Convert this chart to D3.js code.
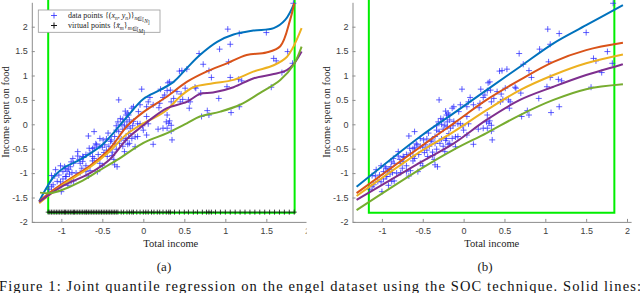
<!DOCTYPE html>
<html>
<head>
<meta charset="utf-8">
<script src="https://cdn.jsdelivr.net/npm/d3@7"></script>
<style>
  body{margin:0;background:#fff;}
  svg{display:block;}
  .tick text{font-family:"Liberation Sans",Arial,sans-serif;font-size:9px;fill:#404040;}
  .tick line{stroke:#8c8c8c;}
  .domain{stroke:#8c8c8c;}
  .serif{font-family:"Liberation Serif","Times New Roman",Times,serif;fill:#222;}
</style>
</head>
<body>
<svg width="640" height="293"></svg>
<script>
// data points (total income, income spent on food)
var dataX=[1.83,1.03,1.17,1.50,1.06,0.93,0.68,0.73,0.80,1.59,1.62,1.76,1.69,1.82,1.04,0.83,1.06,1.16,1.20,1.02,1.56,0.92,1.07,1.17,0.78,0.80,0.71,
  0.44,0.47,0.53,0.64,0.51,0.41,0.46,0.48,0.57,0.56,0.45,0.33,0.29,0.21,0.30,0.24,0.37,0.34,0.19,0.29,0.32,0.34,0.24,0.29,0.34,0.35,0.18,0.12,0.06,0.04,-0.01,-0.07,-0.02,0.08,0.04,-0.06,-0.14,-0.12,-0.18,-0.20,-0.12,-0.13,-0.16,-0.18,-0.14,-0.10,-0.10,-0.19,-0.22,-0.30,-0.28,-0.33,-0.22,-0.30,-0.35,-0.53,-0.60,-0.62,-0.67,
  0.12,0.20,0.26,0.06,-0.04,-0.21,-0.17,-0.04,0.04,0.00,-0.21,-0.17,-0.07,0.31,0.28,0.63,0.70,0.55,0.32,
  -0.58,-0.53,-0.60,-0.65,-0.70,-0.73,-0.80,-0.80,-0.78,-0.74,-0.85,-0.89,-0.91,-0.93,-0.87,-0.82,-0.77,-0.67,-0.56,-0.53,-0.50,-0.44,-0.38,-0.36,-0.35,-0.32,-0.38,-0.33,-0.45,-0.50,-1.01,-0.98,-1.03,-0.95,-1.01,-1.08,-1.05,-1.00,-1.10,-1.12,-0.85,-0.88,-1.15,
  -0.95,-0.90,-0.75,-0.70,-0.62,-0.65,-0.60,-0.55,-0.48,-0.42,-0.40,-0.45,-0.35,-0.27,-0.25,-0.25,-0.27,-0.25,-0.20,-1.07,-1.12,-0.98,-0.92,-0.86,-0.77,-0.70,
  -0.19,-0.31,-0.23,-0.33,-0.43,-0.49,-0.39,-0.47,-0.29,-0.57,-0.66,-0.74,-0.62,-0.23,-0.88,-0.96,-0.94];
var dataY=[2.48,1.95,1.86,1.88,1.64,1.54,1.45,1.23,1.10,1.35,1.30,1.49,1.06,1.25,1.28,0.96,0.96,0.92,0.89,0.77,0.76,0.53,0.24,0.36,0.28,0.19,0.16,
  1.09,1.10,1.13,0.74,0.74,0.67,0.62,0.51,0.46,0.33,0.46,0.70,0.69,0.72,0.85,0.55,0.53,0.46,0.34,0.19,0.07,-0.02,-0.08,-0.08,-0.14,-0.32,-0.10,-0.41,0.01,-0.22,-0.03,0.01,0.72,0.55,0.36,0.26,0.33,0.36,0.19,0.05,0.06,-0.03,-0.08,-0.19,-0.29,-0.26,-0.46,-0.41,-0.33,0.50,0.12,-0.03,0.27,-0.15,-0.39,-0.29,-0.15,-0.50,-0.24,
  0.40,0.43,0.60,0.46,0.40,0.19,0.09,0.01,0.16,-0.12,-0.29,-0.39,-0.25,0.02,0.05,0.76,0.64,0.50,0.87,
  -0.40,-0.45,-0.48,-0.59,-0.62,-0.68,-0.56,-0.65,-0.72,-0.76,-0.80,-0.87,-0.92,-0.96,-0.99,-1.00,-0.99,-1.06,-0.97,-0.80,-0.85,-0.66,-0.64,-0.72,-0.83,-0.87,-0.57,-0.51,-0.53,-0.47,-0.85,-0.97,-1.04,-1.07,-1.18,-1.06,-1.17,-1.38,-1.24,-1.28,-1.16,-1.17,-1.33,
  -0.90,-1.02,-0.90,-0.85,-0.75,-0.95,-0.70,-0.62,-0.58,-0.45,-0.35,-0.30,-0.25,-0.30,-0.45,-0.10,0.00,0.10,-0.05,-0.93,-1.05,-1.12,-1.25,-0.70,-0.80,-0.97,
  0.23,0.05,-0.02,-0.12,-0.18,-0.32,-0.32,-0.42,-0.39,-0.42,-0.49,-0.66,-0.66,-0.56,-0.77,-0.87,-1.07];

// virtual points (panel a), all at y=-1.8
var virtualX=[-1.16,-1.14,-1.12,-1.10,-1.08,-1.06,-1.04,-1.02,-1.00,-0.98,-0.96,-0.95,-0.93,-0.91,-0.89,-0.87,-0.85,-0.84,-0.82,-0.80,-0.78,-0.76,-0.74,-0.72,-0.70,-0.69,-0.67,-0.65,-0.63,-0.61,-0.59,-0.57,-0.55,-0.53,-0.51,-0.49,-0.47,-0.45,-0.43,-0.41,-0.39,-0.37,-0.35,-0.33,-0.31,-0.27,-0.24,-0.20,-0.17,-0.14,-0.12,-0.08,-0.04,0.00,0.03,0.06,0.10,0.13,0.17,0.20,0.24,0.28,0.31,0.33,0.38,0.44,0.50,0.55,0.61,0.66,0.72,0.77,0.80,0.83,0.88,0.94,1.00,1.06,1.12,1.18,1.24,1.30,1.36,1.42,1.48,1.54,1.60,1.66,1.72,1.78,1.84];
var virtualY=-1.8;

// green box
var boxX=[-1.16,1.845];
var boxY=-1.81;

// quantile curves, panel (a): [x, y] knots
var curveNames=['q1','q2','q3','q4','q5'];
var curveColors=['#0072BD','#D95319','#EDB120','#7E2F8E','#77AC30'];
var curvesA=[
  [[-1.27,-1.58],[-1.18,-1.3],[-1.08,-1.05],[-0.95,-0.87],[-0.8,-0.75],[-0.65,-0.6],[-0.5,-0.42],[-0.35,-0.15],[-0.2,0.15],[0,0.52],[0.2,0.7],[0.37,0.87],[0.53,1.15],[0.69,1.42],[0.9,1.69],[1.1,1.84],[1.34,1.92],[1.59,1.97],[1.73,2.14],[1.84,2.48]],
  [[-1.27,-1.58],[-1.1,-1.35],[-0.85,-1.07],[-0.65,-0.85],[-0.41,-0.5],[-0.2,-0.04],[0,0.25],[0.29,0.57],[0.53,0.87],[0.77,1.08],[1.02,1.25],[1.26,1.42],[1.5,1.47],[1.67,1.6],[1.79,2.14],[1.84,2.48]],
  [[-1.27,-1.62],[-1.0,-1.26],[-0.65,-0.88],[-0.41,-0.55],[-0.2,-0.2],[0,0.02],[0.12,0.12],[0.29,0.3],[0.45,0.57],[0.61,0.76],[0.85,0.84],[1.10,0.91],[1.34,1.08],[1.59,1.21],[1.75,1.38],[1.83,1.59],[1.93,1.97]],
  [[-1.27,-1.59],[-1.0,-1.28],[-0.65,-1.0],[-0.41,-0.72],[-0.2,-0.3],[0,-0.02],[0.08,0.09],[0.29,0.33],[0.53,0.46],[0.69,0.62],[0.85,0.65],[1.10,0.76],[1.34,0.94],[1.59,1.03],[1.75,1.11],[1.84,1.25],[1.93,1.49]],
  [[-1.26,-1.40],[-1.14,-1.41],[-1.0,-1.35],[-0.77,-1.18],[-0.53,-0.94],[-0.32,-0.73],[-0.04,-0.42],[0.08,-0.32],[0.29,-0.18],[0.53,0.02],[0.69,0.16],[0.94,0.26],[1.18,0.40],[1.42,0.64],[1.67,0.91],[1.83,1.21],[1.93,1.59]]
];
// quantile curves, panel (b)
var curvesB=[
  [[-1.31,-1.28],[-0.53,-0.25],[-0.12,0.23],[0.28,0.70],[0.69,1.18],[1.10,1.66],[1.5,2.03],[1.95,2.44]],
  [[-1.31,-1.41],[-0.41,-0.32],[-0.12,0.02],[0.28,0.50],[0.69,0.91],[1.10,1.28],[1.50,1.52],[1.95,1.67]],
  [[-1.31,-1.47],[-0.53,-0.56],[-0.12,-0.15],[0.28,0.29],[0.69,0.70],[1.10,1.01],[1.50,1.25],[1.95,1.43]],
  [[-1.31,-1.55],[-0.53,-0.78],[-0.12,-0.39],[0.28,0.09],[0.69,0.50],[1.10,0.77],[1.50,1.01],[1.95,1.23]],
  [[-1.31,-1.76],[-0.53,-0.92],[-0.12,-0.52],[0.28,-0.18],[0.69,0.19],[1.10,0.50],[1.50,0.72],[1.95,0.82]]
];

var yTicks=[-2,-1.5,-1,-0.5,0,0.5,1,1.5,2];
var xTicks=[-1,-0.5,0,0.5,1,1.5,2];

var svg=d3.select('svg');
var points=dataX.map(function(x,i){return [x,dataY[i]];});
var plus='M-3,0H3M0,-3V3';
var serif='"Liberation Serif","Times New Roman",Times,serif';

var drawPanel=function(opt){
  var g=svg.append('g');
  if(opt.clip){
    svg.append('clipPath').attr('id',opt.id+'-clip')
      .append('rect').attr('x',opt.clip[0]).attr('y',0).attr('width',opt.clip[1]-opt.clip[0]).attr('height',293);
    g.attr('clip-path','url(#'+opt.id+'-clip)');
  }
  let x=d3.scaleLinear().domain([-1.36,opt.xMax]).range([opt.left,opt.right]);
  let y=d3.scaleLinear().domain([-2,2.5]).range([221.9,2.3]);

  let yAxis=d3.axisLeft(y).tickValues(yTicks).tickSize(-3).tickSizeOuter(0).tickPadding(4).tickFormat(function(d){return d;});
  g.append('g').attr('transform','translate('+opt.left+',0)').call(yAxis);
  let xAxis=d3.axisBottom(x).tickValues(xTicks).tickSize(-3).tickSizeOuter(0).tickPadding(6).tickFormat(function(d){return d;});
  g.append('g').attr('transform','translate(0,221.9)').call(xAxis);

  // green box
  let green=g.append('g').attr('stroke','#00ee00').attr('stroke-width',2).attr('fill','none');
  green.append('path').attr('d',d3.line()([[x(boxX[0]),y(2.56)],[x(boxX[0]),y(boxY)],[x(boxX[1]),y(boxY)],[x(boxX[1]),y(2.56)]]));

  // data
  g.append('g').selectAll('path').data(points).enter().append('path')
    .attr('d',plus)
    .attr('transform',function(d){return 'translate('+x(d[0])+','+y(d[1])+')';})
    .attr('stroke','#2b2bff').attr('stroke-opacity',0.75).attr('stroke-width',1).attr('fill','none');

  if(opt.virtual){
    g.append('g').selectAll('path').data(virtualX).enter().append('path')
      .attr('d','M-2.5,0H2.5M0,-2.5V2.5')
      .attr('transform',function(d){return 'translate('+x(d)+','+y(virtualY)+')';})
      .attr('stroke','#111').attr('stroke-opacity',0.8).attr('stroke-width',1).attr('fill','none');
  }

  let line=d3.line().x(function(d){return x(d[0]);}).y(function(d){return y(d[1]);}).curve(d3.curveCatmullRom.alpha(0.5));
  g.append('g').selectAll('path').data(opt.curves).enter().append('path')
    .attr('class',function(d,i){return curveNames[i];})
    .attr('d',line).attr('fill','none')
    .attr('stroke',function(d,i){return curveColors[i];})
    .attr('stroke-width',2);

  // labels
  g.append('text').attr('class','serif').attr('font-family',serif).text('Total income')
    .attr('x',(opt.left+opt.right)/2).attr('y',246.5)
    .attr('text-anchor','middle').style('font-size','10.5px');
  g.append('text').attr('class','serif').attr('font-family',serif).text('Income spent on food')
    .attr('text-anchor','middle').style('font-size','10.5px')
    .attr('transform','translate('+(opt.left-23)+',112)rotate(-90)');
  svg.append('text').attr('class','serif').attr('font-family',serif).text(opt.tag)
    .attr('x',opt.tagX).attr('y',270.5).attr('text-anchor','middle').style('font-size','13px');
  return {g:g,x:x,y:y};
};

var pa=drawPanel({id:'a',left:31.8,right:309.8,xMax:2.03,clip:[0,306.5],curves:curvesA,virtual:true,tag:'(a)',tagX:164});
drawPanel({id:'b',left:352.5,right:631.1,xMax:2.05,clip:[320,640],curves:curvesB,virtual:false,tag:'(b)',tagX:485});

// legend (panel a)
var legend=pa.g.append('g');
legend.append('rect').attr('x',38.3).attr('y',10).attr('width',121.7).attr('height',22.3)
  .attr('fill','#fff').attr('stroke','#999').attr('stroke-width',0.8);
legend.append('path').attr('d',plus).attr('transform','translate(54,15.5)')
  .attr('stroke','#2b2bff').attr('stroke-opacity',0.8).attr('fill','none');
legend.append('path').attr('d',plus).attr('transform','translate(54,25.5)')
  .attr('stroke','#111').attr('fill','none');

var rich=function(sel,parts){
  parts.forEach(function(p){
    let t=sel.append('tspan').text(p[0]);
    if(p[1].indexOf('i')>=0) t.style('font-style','italic');
    if(p[1].indexOf('s')>=0) t.style('font-size','5.5px').attr('dy',1.5);
    if(p[1].indexOf('u')>=0) t.attr('dy',-1.5);
  });
};
var l1=legend.append('text').attr('class','serif').attr('font-family',serif).attr('x',68).attr('y',18.3).style('font-size','8px');
rich(l1,[['data points {(',''],['x','i'],['n','si'],[', ','u'],['y','i'],['n','si'],[')}','u'],['n','si'],['\u2208[','s'],['N','si'],[']','s']]);
var l2=legend.append('text').attr('class','serif').attr('font-family',serif).attr('x',68).attr('y',28.3).style('font-size','8px');
rich(l2,[['virtual points {',''],['x\u0303','i'],['m','si'],['}','u'],['m','si'],['\u2208[','s'],['M','si'],[']','s']]);

// caption
svg.append('text').attr('class','serif').attr('font-family',serif).attr('x',-1).attr('y',290.5)
  .attr('textLength',642).attr('lengthAdjust','spacing').style('font-size','14.5px').style('fill','#111')
  .text('Figure 1: Joint quantile regression on the engel dataset using the SOC technique. Solid lines:');
</script>
</body>
</html>
